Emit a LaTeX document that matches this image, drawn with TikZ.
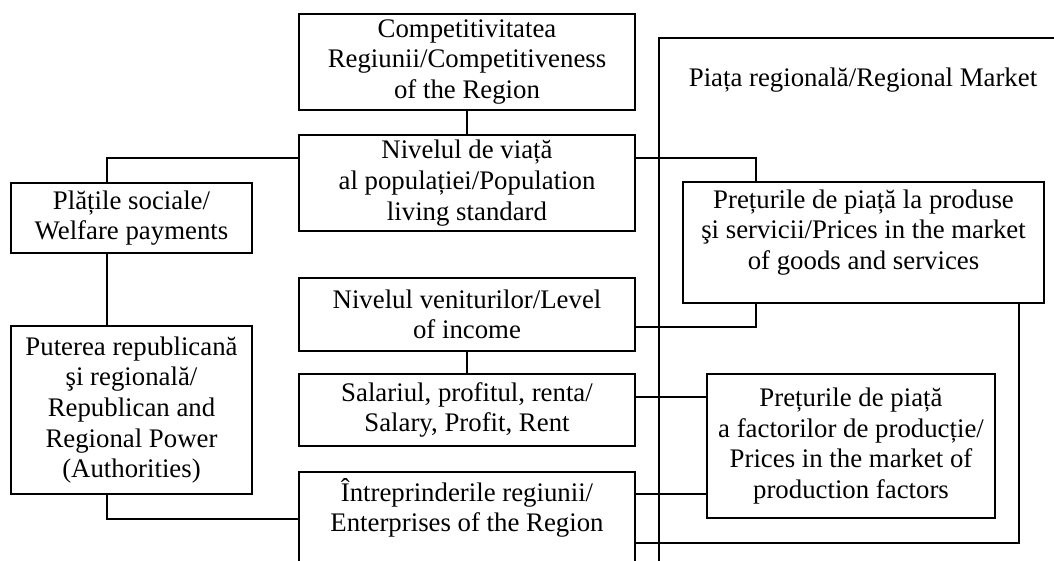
\documentclass[tikz,border=0pt]{standalone}
\usepackage{fontspec}
\setmainfont{Liberation Serif}
\usepackage{tikz}

\begin{document}
\begin{tikzpicture}[x=0.5pt, y=-0.5pt, line width=1.1pt,
	box/.style={draw, align=center, inner sep=0pt,
	font=\fontsize{13.4}{15.3}\selectfont},
	txt/.style={align=center, inner sep=0pt,
	font=\fontsize{13.4}{15.3}\selectfont}]
	\useasboundingbox (0,0) rectangle (1054,561);
	\clip (0,0) rectangle (1054,561);
	\draw (1100,38) -| (659,600);
	\node[txt] (piata) at (863,80) {Piața regională/Regional Market};
	\node[box, minimum width=168pt, minimum height=48pt] (comp) at (467,62) {Competitivitatea\\Regiunii/Competitiveness\\of the Region};
	\node[box, minimum width=168pt, minimum height=48pt] (viata) at (467,183) {Nivelul de viață\\al populației/Population\\living standard};
	\node[box, minimum width=168pt, minimum height=36.5pt] (venit) at (467,314.5) {Nivelul veniturilor/Level\\of income};
	\node[box, minimum width=168pt, minimum height=36pt] (salar) at (467,410) {Salariul, profitul, renta/\\Salary, Profit, Rent};
	\node[box, minimum width=168pt, minimum height=80pt, anchor=north,
	label={[txt, anchor=north, yshift=-3pt]north:{Întreprinderile regiunii/\\Enterprises of the Region}}] (intr) at (467,471) {};
	\node[box, minimum width=120.5pt, minimum height=35pt] (plati) at (131.5,218) {Plățile sociale/\\Welfare payments};
	\node[box, minimum width=120.5pt, minimum height=84pt] (puterea) at (131.5,410) {Puterea republicană\\şi regională/\\Republican and\\Regional Power\\(Authorities)};
	\node[box, minimum width=180.5pt, minimum height=60.5pt,
	label={[txt, yshift=5pt]center:{Prețurile de piață la produse\\şi servicii/Prices in the market\\of goods and services}}] (pretprod) at (863.5,242.5) {};
	\node[box, minimum width=144pt, minimum height=72pt] (pretfact) at (851,446) {Prețurile de piață\\a factorilor de producție/\\Prices in the market of\\production factors};
	\coordinate (lbus) at (107,158);
	\coordinate (lbot) at (107,519);
	\coordinate (rbus) at (756,158);
	\coordinate (rmid) at (756,327);
	\coordinate (rbot) at (1019,543);
	\coordinate (fup) at (707,397);
	\coordinate (fdn) at (707,494);
	\draw (comp) -- (viata);
	\draw (venit) -- (salar);
	\draw (viata.west |- lbus) -- (lbus) -- (lbus |- plati.north);
	\draw (lbus |- plati.south) -- (lbus |- puterea.north);
	\draw (lbus |- puterea.south) -- (lbot) -- (intr.west |- lbot);
	\draw (viata.east |- rbus) -- (rbus) -- (rbus |- pretprod.north);
	\draw (rbus |- pretprod.south) -- (rmid) -- (venit.east |- rmid);
	\draw (rbot |- pretprod.south) -- (rbot) -- (intr.east |- rbot);
	\draw (salar.east |- fup) -- (fup);
	\draw (intr.east |- fdn) -- (fdn);
\end{tikzpicture}
\end{document}
